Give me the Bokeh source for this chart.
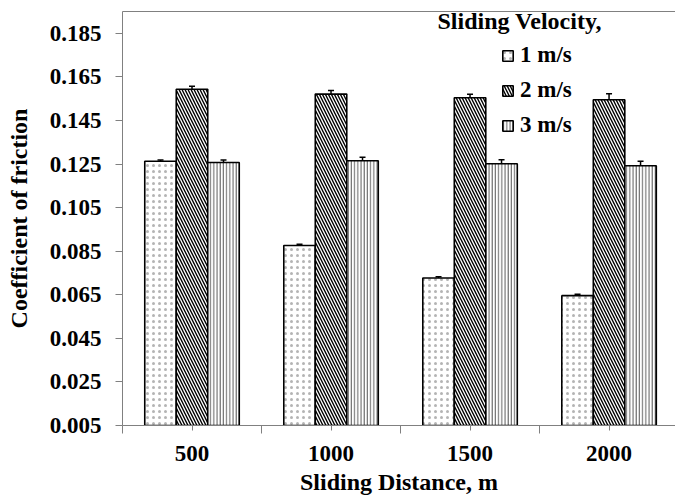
import numpy as np
from bokeh.plotting import figure
from bokeh.models import (FixedTicker, NumeralTickFormatter, Whisker, ColumnDataSource,
                          Legend, LegendItem, Label, LinearAxis, TeeHead, Range1d)
from bokeh.embed import file_html
from bokeh.resources import INLINE

# Sliding distance categories (m)
distances = ["500", "1000", "1500", "2000"]
velocities = ["1 m/s", "2 m/s", "3 m/s"]

# Mean coefficient of friction per sliding velocity
cof_1ms = [0.1263, 0.0876, 0.0727, 0.0646]
cof_2ms = [0.1593, 0.1571, 0.1554, 0.1545]
cof_3ms = [0.1257, 0.1265, 0.1251, 0.1242]

# Standard deviations (error bars)
err_1ms = [0.0006, 0.0006, 0.0006, 0.0006]
err_2ms = [0.0014, 0.0016, 0.0016, 0.0027]
err_3ms = [0.0011, 0.0016, 0.0019, 0.0021]

y_ticks = [0.005, 0.025, 0.045, 0.065, 0.085, 0.105, 0.125, 0.145, 0.165, 0.185]

FONT = "Liberation Serif"
AXIS_GRAY = "#808080"

p = figure(frame_width=553, frame_height=414, min_border_left=122, min_border_top=11,
           min_border_bottom=70, min_border_right=0,
           x_range=Range1d(0.5, 4.478), y_range=Range1d(0.005, 0.195),
           output_backend="svg", toolbar_location=None, tools="")
p.outline_line_color = None
p.grid.visible = False
p.background_fill_color = "white"
p.border_fill_color = "white"

centers = np.arange(1, len(distances) + 1)
bar_w = 0.2266
styles = [
    dict(hatch_pattern="dot", hatch_color="#b4b4b4", hatch_scale=6, hatch_weight=1.2),
    dict(hatch_pattern="left_diagonal_line", hatch_color="black", hatch_scale=6, hatch_weight=1.4),
    dict(hatch_pattern="vertical_line", hatch_color="#5a5a5a", hatch_scale=3.2, hatch_weight=1.0),
]
series = [cof_1ms, cof_2ms, cof_3ms]
errors = [err_1ms, err_2ms, err_3ms]

renderers = []
for i, (vals, errs, st) in enumerate(zip(series, errors, styles)):
    xs = centers + (i - 1) * bar_w
    vals = np.array(vals)
    errs = np.array(errs)
    src = ColumnDataSource(dict(x=xs, top=vals, lower=vals - errs, upper=vals + errs))
    r = p.vbar(x="x", top="top", bottom=0.005, width=bar_w, source=src,
               fill_color="white", line_color="black", line_width=1.6, **st)
    renderers.append(r)
    w = Whisker(base="x", lower="lower", upper="upper", source=src,
                line_color="black", line_width=1.5,
                upper_head=TeeHead(size=6, line_color="black", line_width=1.5),
                lower_head=TeeHead(size=6, line_color="black", line_width=1.5))
    p.add_layout(w)

# x axis: category labels at group centres, boundary ticks between groups
xa = p.xaxis[0]
xa.ticker = FixedTicker(ticks=list(centers), minor_ticks=[0.5, 1.5, 2.5, 3.5, 4.5])
xa.major_label_overrides = {int(c): d for c, d in zip(centers, distances)}
xa.major_tick_out = 5
xa.major_tick_in = 0
xa.minor_tick_out = 8
xa.minor_tick_in = 0
xa.axis_label = "Sliding Distance, m"

ya = p.yaxis[0]
ya.ticker = FixedTicker(ticks=y_ticks)
ya.formatter = NumeralTickFormatter(format="0.000")
ya.major_tick_out = 7
ya.major_tick_in = 0
ya.minor_tick_line_color = None
ya.axis_label = "Coefficient of friction"

for ax in (xa, ya):
    ax.axis_line_color = AXIS_GRAY
    ax.major_tick_line_color = AXIS_GRAY
    ax.minor_tick_line_color = AXIS_GRAY if ax is xa else None
    ax.major_label_text_font = FONT
    ax.major_label_text_font_style = "bold"
    ax.major_label_text_font_size = "23px"
    ax.major_label_text_color = "black"
    ax.axis_label_text_font = FONT
    ax.axis_label_text_font_style = "bold"
    ax.axis_label_text_font_size = "24px"
    ax.axis_label_text_color = "black"

xa.major_label_standoff = 12
xa.axis_label_standoff = 5
ya.major_label_standoff = 14
ya.axis_label_standoff = 15

# top frame line
top = LinearAxis(ticker=FixedTicker(ticks=[]), axis_line_color=AXIS_GRAY,
                 major_tick_line_color=None, minor_tick_line_color=None,
                 major_label_text_font_size="0px")
p.add_layout(top, "above")

legend = Legend(items=[LegendItem(label=v, renderers=[r]) for v, r in zip(velocities, renderers)],
                location=(379, 287), orientation="vertical",
                glyph_width=13, glyph_height=13, label_standoff=6, spacing=9,
                padding=0, margin=0, border_line_color=None, background_fill_alpha=0,
                label_text_font=FONT, label_text_font_style="bold",
                label_text_font_size="23px", label_text_color="black")
p.add_layout(legend)

p.add_layout(Label(x=315, y=405, x_units="screen", y_units="screen",
                   text="Sliding Velocity,", text_font=FONT, text_font_style="bold",
                   text_font_size="24px", text_baseline="middle", text_color="black"))

open("out.html", "w").write(file_html(p, INLINE))
